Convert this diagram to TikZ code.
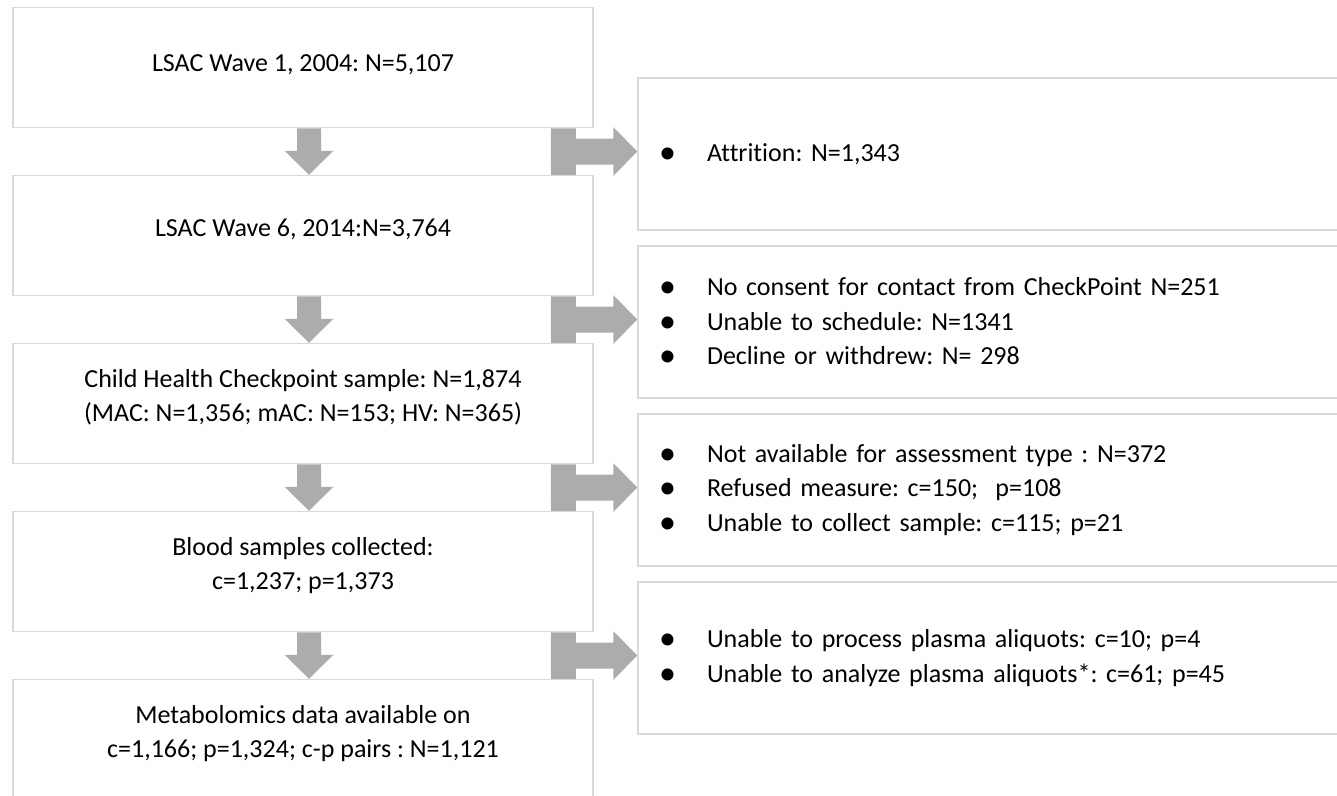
\documentclass[tikz,border=0pt]{standalone}
\usepackage{fontspec}
\setmainfont{Carlito}[Ligatures=NoCommon]
\usetikzlibrary{
    backgrounds,
    calc,
}
\definecolor{boxline}{HTML}{D9D9D9}
\definecolor{arrowgray}{HTML}{AEABAB}
\newcommand{\itm}{\makebox[48pt][l]{\raisebox{-2pt}{\fontsize{34}{34}\selectfont •}}}
\frenchspacing

\begin{document}
\begin{tikzpicture}[x=1pt, y=1pt, node distance={168pt},
    main/.style = {draw=boxline, line width=1.5pt, minimum width=580pt, minimum height=120pt, text depth=16pt, align=center, font=\fontsize{26}{34.5}\selectfont},
    side/.style = {draw=boxline, line width=1.5pt, minimum height=152pt, text width=678pt, inner xsep=21pt, align=left, font=\fontsize{26}{34.5}\selectfont},
    arr/.style = {fill=arrowgray}]
    \useasboundingbox (0,0) rectangle (1337,-795);
    \node[main, text depth=9pt] (1) at (303,-67.5) {LSAC Wave 1, 2004: N=5,107};
    \node[main] (2) [below of=1] {LSAC Wave 6, 2014:N=3,764};
    \node[main] (3) [below of=2] {Child Health Checkpoint sample: N=1,874\\(MAC: N=1,356; mAC: N=153; HV: N=365)};
    \node[main] (4) [below of=3] {Blood samples collected:\\c=1,237; p=1,373};
    \node[main] (5) [below of=4] {Metabolomics data available on\\c=1,166; p=1,324; c-p pairs : N=1,121};
    \node[side] (e1) at (998,-154) {\itm Attrition: N=1,343};
    \node[side] (e2) [below of=e1] {\itm No consent for contact from CheckPoint N=251\\\itm Unable to schedule: N=1341\\\itm Decline or withdrew: N= 298};
    \node[side] (e3) [below of=e2] {\itm Not available for assessment type : N=372\\\itm Refused measure: c=150;~ p=108\\\itm Unable to collect sample: c=115; p=21};
    \node[side] (e4) [below of=e3] {\itm Unable to process plasma aliquots: c=10; p=4\\\itm Unable to analyze plasma aliquots*: c=61; p=45};
    \begin{scope}[on background layer]
    \foreach \a/\b/\e in {1/2/e1, 2/3/e2, 3/4/e3, 4/5/e4} {
        % down arrow
        \coordinate (top) at ($(\a.south)+(6,0)$);
        \coordinate (tip) at ($(\b.north)+(6,0)$);
        \fill[arr] ($(top)+(-12,0)$) -- ($(top)+(12,0)$) -- ($(tip)+(12,24)$) -- ($(tip)+(24.5,24)$)
            -- (tip) -- ($(tip)+(-24.5,24)$) -- ($(tip)+(-12,24)$) -- cycle;
        % side arrow
        \coordinate (mid) at ($(\a.south east)!0.5!(\b.north east)$);
        \coordinate (side) at (\e.west |- mid);
        \fill[arr] ($(\a.south east)+(-43,0)$) -- ($(\a.south east)+(-18,0)$) -- ($(mid)+(-18,13)$)
            -- ($(side)+(-24,13)$) -- ($(side)+(-24,24.5)$) -- (side) -- ($(side)+(-24,-24.5)$)
            -- ($(side)+(-24,-13)$) -- ($(mid)+(-18,-13)$) -- ($(\b.north east)+(-18,0)$)
            -- ($(\b.north east)+(-43,0)$) -- cycle;
    }
    \end{scope}
\end{tikzpicture}
\end{document}
